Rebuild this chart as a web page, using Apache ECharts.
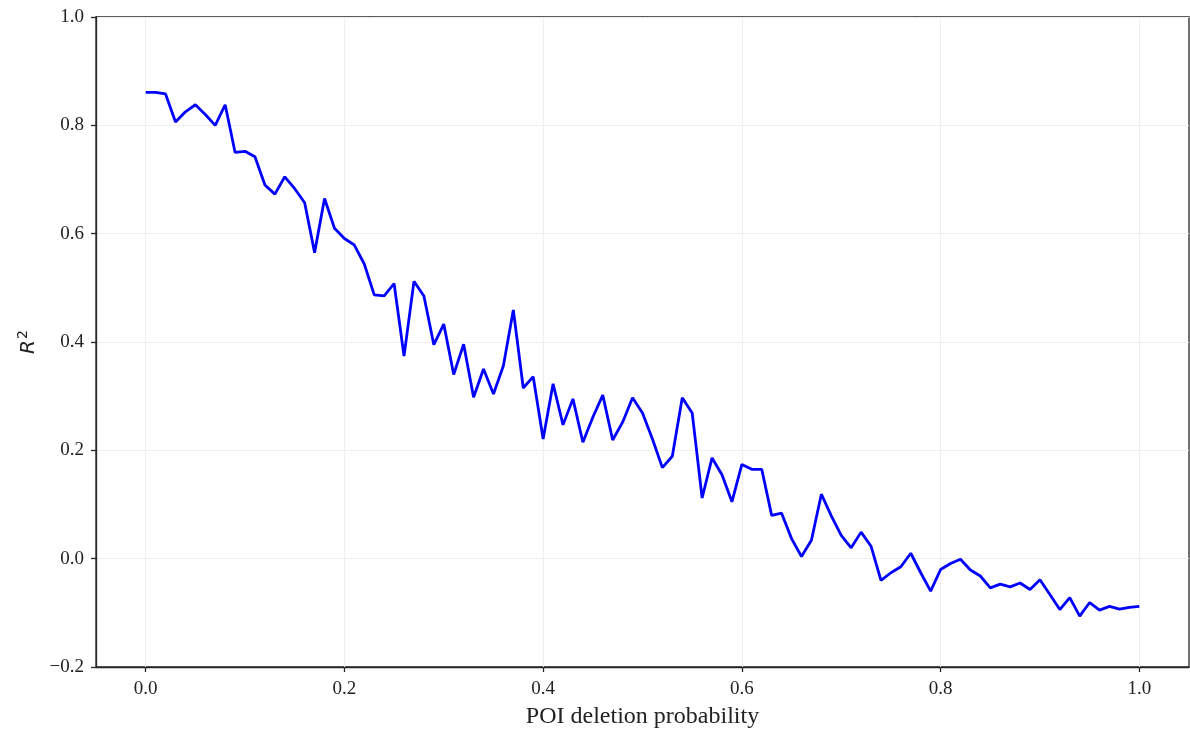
<!DOCTYPE html>
<html>
<head>
<meta charset="utf-8">
<script src="https://cdn.jsdelivr.net/npm/echarts@6/dist/echarts.min.js"></script>
<style>
  html, body { margin: 0; padding: 0; background: #fff; }
  #chart { width: 1190px; height: 734px; }
</style>
</head>
<body>
<div id="chart"></div>
<script>
// Deletion probabilities (0.00 .. 1.00 in steps of 0.01)
const deletionProb = [
  0.00, 0.01, 0.02, 0.03, 0.04, 0.05, 0.06, 0.07, 0.08, 0.09,
  0.10, 0.11, 0.12, 0.13, 0.14, 0.15, 0.16, 0.17, 0.18, 0.19,
  0.20, 0.21, 0.22, 0.23, 0.24, 0.25, 0.26, 0.27, 0.28, 0.29,
  0.30, 0.31, 0.32, 0.33, 0.34, 0.35, 0.36, 0.37, 0.38, 0.39,
  0.40, 0.41, 0.42, 0.43, 0.44, 0.45, 0.46, 0.47, 0.48, 0.49,
  0.50, 0.51, 0.52, 0.53, 0.54, 0.55, 0.56, 0.57, 0.58, 0.59,
  0.60, 0.61, 0.62, 0.63, 0.64, 0.65, 0.66, 0.67, 0.68, 0.69,
  0.70, 0.71, 0.72, 0.73, 0.74, 0.75, 0.76, 0.77, 0.78, 0.79,
  0.80, 0.81, 0.82, 0.83, 0.84, 0.85, 0.86, 0.87, 0.88, 0.89,
  0.90, 0.91, 0.92, 0.93, 0.94, 0.95, 0.96, 0.97, 0.98, 0.99,
  1.00
];

// R^2 score at each deletion probability
const r2Score = [
  0.861, 0.861, 0.858, 0.806, 0.825, 0.838, 0.820, 0.800, 0.838, 0.750,
  0.752, 0.742, 0.690, 0.673, 0.705, 0.683, 0.657, 0.565, 0.665, 0.610,
  0.591, 0.579, 0.544, 0.487, 0.485, 0.508, 0.374, 0.512, 0.485, 0.395,
  0.433, 0.340, 0.396, 0.298, 0.350, 0.304, 0.356, 0.459, 0.315, 0.336,
  0.221, 0.323, 0.247, 0.295, 0.215, 0.261, 0.302, 0.219, 0.252, 0.297,
  0.269, 0.221, 0.168, 0.189, 0.297, 0.269, 0.112, 0.186, 0.155, 0.105,
  0.174, 0.165, 0.165, 0.080, 0.084, 0.037, 0.004, 0.034, 0.119, 0.079,
  0.043, 0.020, 0.049, 0.023, -0.040, -0.026, -0.015, 0.010, -0.026, -0.060,
  -0.020, -0.009, -0.001, -0.021, -0.032, -0.054, -0.047, -0.052, -0.045, -0.057,
  -0.039, -0.066, -0.094, -0.072, -0.106, -0.081, -0.095, -0.088, -0.093, -0.090,
  -0.088
];

const xTicks = [0.0, 0.2, 0.4, 0.6, 0.8, 1.0];

const serif = '"Liberation Serif", "Times New Roman", serif';
const axisColor = '#262626';

// one decimal, with a typographic minus sign
const fmt = v => v.toFixed(1).replace('-', '\u2212');

const chart = echarts.init(document.getElementById('chart'), null, { renderer: 'canvas' });

chart.setOption({
  animation: false,
  backgroundColor: '#ffffff',
  grid: {
    left: 96, right: 1, top: 17, bottom: 66,
    show: true, borderColor: axisColor, borderWidth: 1.3,
    backgroundColor: 'transparent'
  },
  xAxis: {
    type: 'value',
    min: -0.05, max: 1.05,
    name: 'POI deletion probability',
    nameLocation: 'middle',
    nameGap: 38,
    nameTextStyle: { fontFamily: serif, fontSize: 24, color: '#222' },
    axisLine: { show: true, onZero: false, lineStyle: { color: axisColor, width: 1.3 } },
    axisTick: { show: true, length: 5, customValues: xTicks, lineStyle: { color: axisColor, width: 1.3 } },
    axisLabel: {
      customValues: xTicks,
      margin: 13,
      fontFamily: serif, fontSize: 19, color: '#222',
      formatter: fmt
    },
    splitLine: { show: false }
  },
  yAxis: {
    type: 'value',
    min: -0.2, max: 1.0, interval: 0.2,
    name: '{r|R}{s|2}',
    nameLocation: 'middle',
    nameRotate: 90,
    nameGap: 47,
    nameTextStyle: {
      rich: {
        r: { fontFamily: '"DejaVu Sans", sans-serif', fontStyle: 'italic', fontSize: 20, color: '#222' },
        s: { fontFamily: '"DejaVu Sans", sans-serif', fontSize: 14, color: '#222', verticalAlign: 'top', padding: [0, 0, 10, 1] }
      }
    },
    axisLine: { show: true, onZero: false, lineStyle: { color: axisColor, width: 1.3 } },
    axisTick: { show: true, length: 5, lineStyle: { color: axisColor, width: 1.3 } },
    axisLabel: {
      margin: 12,
      fontFamily: serif, fontSize: 19, color: '#222',
      formatter: fmt
    },
    splitLine: { show: true, lineStyle: { color: '#efefef', width: 1 } }
  },
  series: [
    {
      type: 'line',
      data: deletionProb.map((p, i) => [p, r2Score[i]]),
      showSymbol: false,
      lineStyle: { color: '#0000ff', width: 2.8 },
      z: 5,
      markLine: {
        silent: true,
        symbol: 'none',
        label: { show: false },
        lineStyle: { color: '#efefef', width: 1, type: 'solid' },
        z: 1,
        data: xTicks.map(v => ({ xAxis: v }))
      }
    }
  ]
});
</script>
</body>
</html>
